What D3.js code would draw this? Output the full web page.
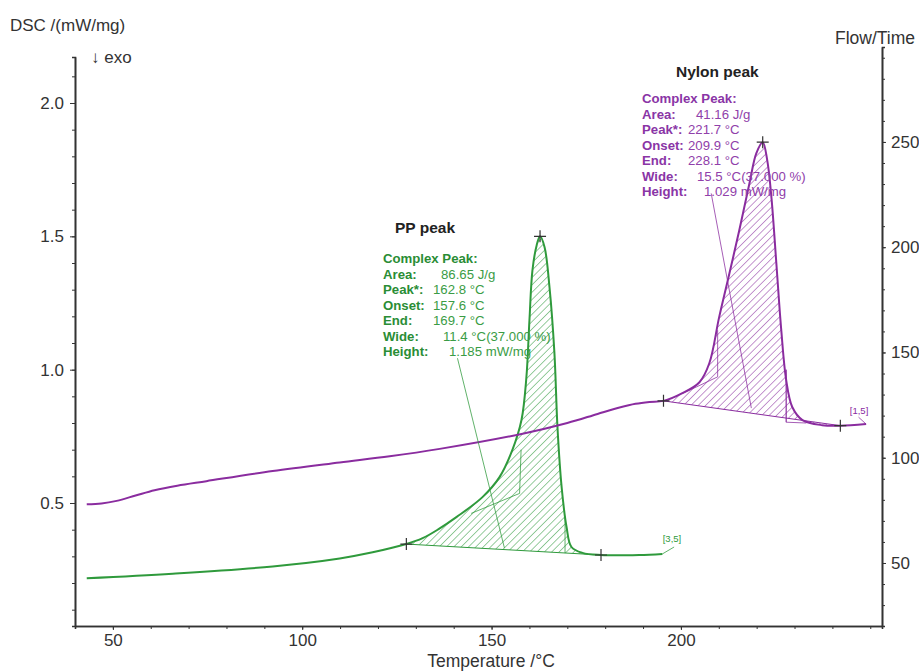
<!DOCTYPE html>
<html lang="en">
<head>
  <meta charset="UTF-8">
  <title>DSC PP / Nylon</title>
  <script src="https://cdnjs.cloudflare.com/ajax/libs/d3/7.8.5/d3.min.js"></script>
  <style>
    body {
      margin: 0;
      background: white;
    }
    svg {
      font-family: "Liberation Sans", Arial, sans-serif;
    }
    .axis path, .axis line {
      stroke: #333;
    }
    .axis path {
      stroke-width: 1.6;
    }
    .axis text {
      fill: #333;
      font-size: 17px;
    }
    .note {
      font-size: 13.2px;
    }
  </style>
</head>
<body>
  <script>
    // temperature (°C) / DSC (mW/mg)
    var nylonT = [43.1, 47, 51, 56, 61, 67, 74.7, 92.2, 109.9, 123.1, 136.3, 158.2, 170, 178, 183.8, 188, 191.7, 195.4,
      200.4, 204.9, 207.5, 210.1, 212.8, 215.4, 218.1, 219.9, 221.6, 222.8, 223.9, 225.2,
      226.5, 227.8, 229.4, 232.1, 237.3, 242.1, 248.9];
    var nylonDsc = [0.495, 0.498, 0.508, 0.528, 0.548, 0.565, 0.582, 0.62, 0.652, 0.675, 0.703, 0.76, 0.8, 0.834, 0.858, 0.872, 0.879, 0.883,
      0.912, 0.953, 1.024, 1.197, 1.361, 1.522, 1.699, 1.811, 1.853, 1.785, 1.646, 1.399,
      1.148, 0.961, 0.86, 0.811, 0.792, 0.79, 0.796];

    var ppT = [43.1, 65.8, 92.2, 109.9, 118.6, 127.5, 131.8, 136, 140.8, 147.6, 152.1, 155.5, 157.9,
      159.2, 160, 160.8, 161.9, 162.8, 164, 165.3, 166.6, 167.4, 168.5, 169.8, 171.1,
      174, 178.9, 189, 195.1];
    var ppDsc = [0.218, 0.235, 0.262, 0.292, 0.315, 0.346, 0.368, 0.402, 0.448, 0.522, 0.597, 0.699, 0.811,
      0.972, 1.185, 1.373, 1.466, 1.5, 1.459, 1.309, 1.062, 0.785, 0.56, 0.41, 0.335,
      0.313, 0.305, 0.305, 0.309];

    // peak integration limits [start, peak, end] (°C)
    var ppLimits = [127.5, 162.8, 178.9];
    var nylonLimits = [195.4, 221.6, 242.1];

    var xTicks = [50, 100, 150, 200];
    var yTicks = [0.5, 1.0, 1.5, 2.0];
    var y2Ticks = [50, 100, 150, 200, 250];

    var ppText = [["Complex Peak:", ""], ["Area:", "86.65 J/g"], ["Peak*:", "162.8 °C"],
      ["Onset:", "157.6 °C"], ["End:", "169.7 °C"], ["Wide:", "11.4 °C(37.000 %)"], ["Height:", "1.185 mW/mg"]];
    var nylonText = [["Complex Peak:", ""], ["Area:", "41.16 J/g"], ["Peak*:", "221.7 °C"],
      ["Onset:", "209.9 °C"], ["End:", "228.1 °C"], ["Wide:", "15.5 °C(37.000 %)"], ["Height:", "1.029 mW/mg"]];

    var w = 919;
    var h = 672;
    var green = "#2f9a3c";
    var purple = "#8a2c9f";

    var svg = d3.select("body").append("svg")
      .attr("width", w)
      .attr("height", h);

    var xScale = d3.scaleLinear().domain([40, 253.1]).range([75, 882]);
    var yScale = d3.scaleLinear().domain([0.0388, 2.1725]).range([626, 57]);
    var y2Scale = d3.scaleLinear().domain([20.07, 295.1]).range([626, 47]);

    // axes: minor ticks first, then labelled major ticks
    svg.append("g").attr("class", "axis")
      .attr("transform", "translate(0,626)")
      .call(d3.axisBottom(xScale).tickValues(d3.range(50, 251, 10)).tickSize(3).tickFormat(""));
    svg.append("g").attr("class", "axis")
      .attr("transform", "translate(0,626)")
      .call(d3.axisBottom(xScale).tickValues(xTicks).tickSize(4).tickPadding(4).tickSizeOuter(0));

    svg.append("g").attr("class", "axis")
      .attr("transform", "translate(75,0)")
      .call(d3.axisLeft(yScale).tickValues(d3.range(1, 22).map(function(d) { return d / 10; })).tickSize(3).tickFormat(""));
    svg.append("g").attr("class", "axis")
      .attr("transform", "translate(75,0)")
      .call(d3.axisLeft(yScale).tickValues(yTicks).tickSize(5).tickPadding(6).tickSizeOuter(0).tickFormat(d3.format(".1f")));

    svg.append("g").attr("class", "axis")
      .attr("transform", "translate(882,0)")
      .call(d3.axisRight(y2Scale).tickValues(d3.range(30, 291, 10)).tickSize(3).tickFormat(""));
    svg.append("g").attr("class", "axis")
      .attr("transform", "translate(882,0)")
      .call(d3.axisRight(y2Scale).tickValues(y2Ticks).tickSize(4).tickPadding(5).tickSizeOuter(0));

    // titles
    svg.append("text").attr("x", 10).attr("y", 31).attr("fill", "#333").style("font-size", "17px").text("DSC /(mW/mg)");
    svg.append("text").attr("x", 91).attr("y", 63).attr("fill", "#333").style("font-size", "17px").text("\u2193 exo");
    svg.append("text").attr("x", 915).attr("y", 44).attr("text-anchor", "end").attr("fill", "#333").style("font-size", "17.5px").text("Flow/Time");
    svg.append("text").attr("x", 491).attr("y", 667).attr("text-anchor", "middle").attr("fill", "#333").style("font-size", "17.5px").text("Temperature /\u00b0C");

    // hatch patterns
    var defs = svg.append("defs");
    function hatch(id, color) {
      var p = defs.append("pattern")
        .attr("id", id)
        .attr("patternUnits", "userSpaceOnUse")
        .attr("width", 5.2)
        .attr("height", 5.2)
        .attr("patternTransform", "rotate(45)");
      p.append("line")
        .attr("x1", 0).attr("y1", 0).attr("x2", 0).attr("y2", 5.2)
        .attr("stroke", color)
        .attr("stroke-width", 1);
    }
    hatch("hatchPP", green);
    hatch("hatchNy", purple);

    function toPoints(ts, vs) {
      return ts.map(function(t, i) { return [t, vs[i]]; });
    }

    var smooth = d3.curveCatmullRom.alpha(0.5);

    var line = d3.line()
      .x(function(d) { return xScale(d[0]); })
      .y(function(d) { return yScale(d[1]); })
      .curve(smooth);

    function drawPeak(ts, vs, limits, color, patternId) {
      var pts = toPoints(ts, vs);
      var t0 = limits[0], t1 = limits[2];
      var v0 = vs[ts.indexOf(t0)], v1 = vs[ts.indexOf(t1)];
      var base = d3.scaleLinear().domain([t0, t1]).range([v0, v1]);
      var inside = pts.filter(function(d) { return d[0] >= t0 && d[0] <= t1; });

      var area = d3.area()
        .x(function(d) { return xScale(d[0]); })
        .y0(function(d) { return yScale(base(d[0])); })
        .y1(function(d) { return yScale(d[1]); })
        .curve(smooth);

      svg.append("path")
        .datum(inside)
        .attr("d", area)
        .attr("fill", "url(#" + patternId + ")")
        .attr("stroke", "none");

      // straight baseline between the limits
      svg.append("path")
        .datum([[t0, v0], [t1, v1]])
        .attr("d", d3.line()
          .x(function(d) { return xScale(d[0]); })
          .y(function(d) { return yScale(d[1]); }))
        .attr("stroke", color)
        .attr("stroke-width", 1);

      svg.append("path")
        .datum(pts)
        .attr("d", line)
        .attr("fill", "none")
        .attr("stroke", color)
        .attr("stroke-width", 2);
    }

    function thin(pts, color) {
      svg.append("path")
        .datum(pts)
        .attr("d", d3.line()
          .x(function(d) { return xScale(d[0]); })
          .y(function(d) { return yScale(d[1]); }))
        .attr("fill", "none")
        .attr("stroke", color)
        .attr("stroke-width", 0.9)
        .attr("stroke-opacity", 0.85);
    }

    drawPeak(ppT, ppDsc, ppLimits, green, "hatchPP");
    drawPeak(nylonT, nylonDsc, nylonLimits, purple, "hatchNy");

    // evaluation construction lines
    thin([[141.0, 1.043], [153.4, 0.331]], green);
    thin([[144.6, 0.461], [157.4, 0.536], [157.8, 0.70]], green);
    thin([[169.4, 0.312], [169.4, 0.45]], green);
    thin([[195.1, 0.309], [198.2, 0.335]], green);

    thin([[208.0, 1.661], [218.6, 0.856]], purple);
    thin([[200.5, 0.911], [209.7, 0.973], [209.7, 1.148]], purple);
    thin([[227.8, 0.803], [227.8, 1.0], [227.8, 0.803], [233.1, 0.8]], purple);
    thin([[248.9, 0.796], [246.9, 0.822]], purple);

    // markers (+) at limits and peaks
    var marks = [];
    [[ppT, ppDsc, ppLimits], [nylonT, nylonDsc, nylonLimits]].forEach(function(s) {
      s[2].forEach(function(t) {
        marks.push([t, s[1][s[0].indexOf(t)]]);
      });
    });
    svg.selectAll(".mark")
      .data(marks)
      .enter()
      .append("path")
      .classed("mark", true)
      .attr("d", function(d) {
        var x = xScale(d[0]), y = yScale(d[1]);
        return "M" + (x - 6) + "," + y + "H" + (x + 6) + "M" + x + "," + (y - 6) + "V" + (y + 6);
      })
      .attr("stroke", "#333")
      .attr("stroke-width", 1.2);

    // small segment labels
    svg.append("text").attr("x", xScale(195.2)).attr("y", yScale(0.352)).attr("fill", green)
      .style("font-size", "9.5px").text("[3,5]");
    svg.append("text").attr("x", xScale(244.6)).attr("y", yScale(0.835)).attr("fill", purple)
      .style("font-size", "9.5px").text("[1,5]");

    // peak annotations
    function notes(x, y, valueX, rows, color, valueColor) {
      rows.forEach(function(r, i) {
        svg.append("text").classed("note", true)
          .attr("x", x).attr("y", y + i * 15.5)
          .attr("fill", color).style("font-weight", "bold")
          .text(r[0]);
        if (r[1]) {
          svg.append("text").classed("note", true)
            .attr("x", valueX[i]).attr("y", y + i * 15.5)
            .attr("fill", valueColor)
            .text(r[1]);
        }
      });
    }

    svg.append("text").attr("x", 395).attr("y", 233).style("font-size", "15.5px")
      .style("font-weight", "bold").attr("fill", "#222").text("PP peak");
    notes(383, 263, [0, 441, 433, 433, 433, 443, 449], ppText, "#2a8d35", "#3a9c45");

    svg.append("text").attr("x", 676).attr("y", 77).style("font-size", "15.5px")
      .style("font-weight", "bold").attr("fill", "#222").text("Nylon peak");
    notes(642, 103, [0, 696, 688, 688, 688, 697, 704], nylonText, "#8a35a6", "#9040aa");
  </script>
</body>
</html>
